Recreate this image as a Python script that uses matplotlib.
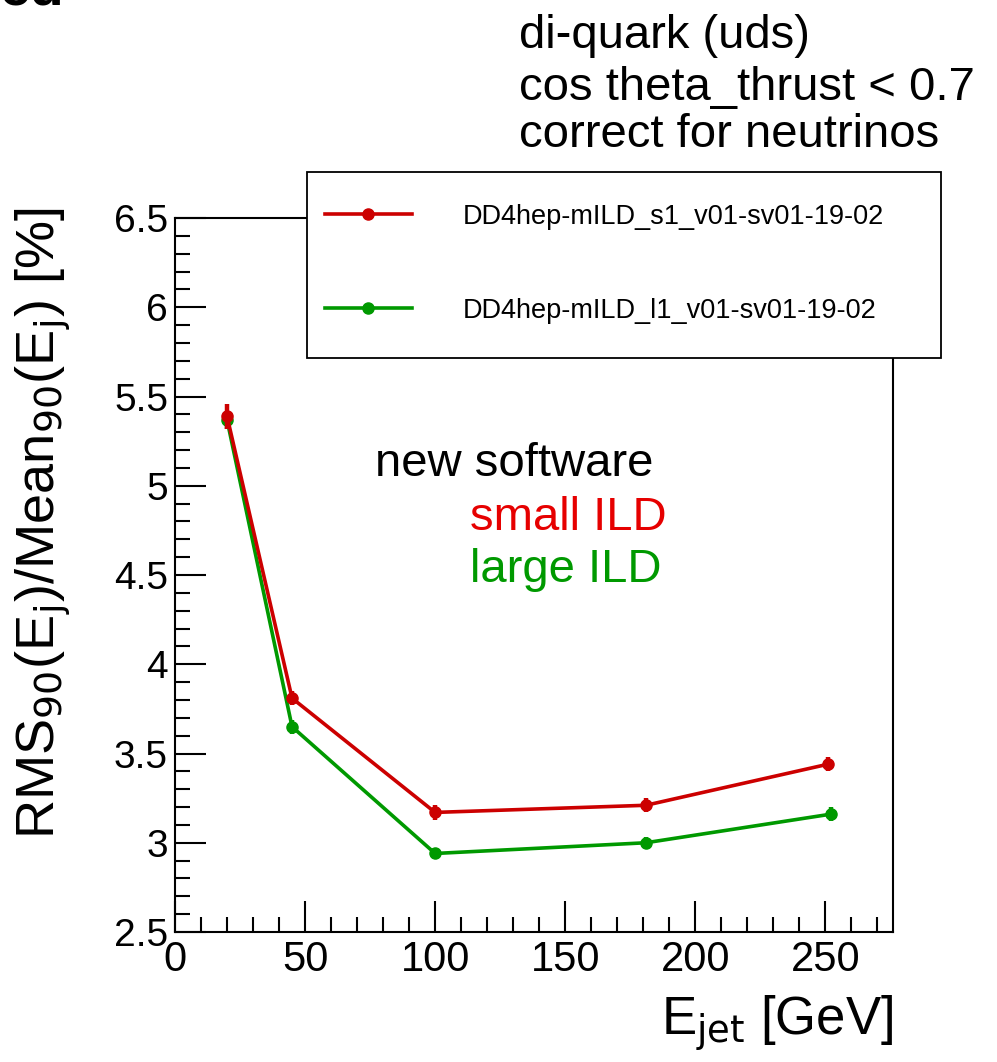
import numpy as np
import matplotlib.pyplot as plt
from matplotlib.patches import Rectangle
from matplotlib.ticker import MultipleLocator

plt.rcParams['font.family'] = ['Liberation Sans', 'DejaVu Sans']

# Data
e_small = np.array([20, 45, 100, 181, 251])
rms_small = np.array([5.39, 3.81, 3.17, 3.21, 3.44])
err_small = np.array([0.07, 0.04, 0.04, 0.04, 0.04])

e_large = np.array([20, 45, 100, 181, 252])
rms_large = np.array([5.37, 3.65, 2.94, 3.00, 3.16])
err_large = np.array([0.05, 0.04, 0.03, 0.03, 0.04])

label_small = 'DD4hep-mILD_s1_v01-sv01-19-02'
label_large = 'DD4hep-mILD_l1_v01-sv01-19-02'

red = '#cc0000'
green = '#009900'

fig = plt.figure(figsize=(9.97, 10.62), dpi=100)
ax = fig.add_axes([0.1755, 0.1224, 0.7202, 0.6723])

# green first, red on top
ax.errorbar(e_large, rms_large, yerr=err_large, fmt='none', ecolor=green, elinewidth=3.2, capsize=0)
ax.plot(e_large, rms_large, color=green, lw=2.6, marker='o', ms=8, label=label_large)
ax.errorbar(e_small, rms_small, yerr=err_small, fmt='none', ecolor=red, elinewidth=3.2, capsize=0)
ax.plot(e_small, rms_small, color=red, lw=2.6, marker='o', ms=8, label=label_small)

ax.set_xlim(0, 276)
ax.set_ylim(2.5, 6.5)
ax.xaxis.set_major_locator(MultipleLocator(50))
ax.xaxis.set_minor_locator(MultipleLocator(10))
ax.yaxis.set_minor_locator(MultipleLocator(0.1))
ax.set_yticks(np.arange(2.5, 6.6, 0.5))
ax.set_yticklabels(['2.5', '3', '3.5', '4', '4.5', '5', '5.5', '6', '6.5'])
ax.tick_params(which='both', direction='in', width=1.5)
ax.tick_params(axis='x', labelsize=30, pad=6)
ax.tick_params(axis='y', labelsize=28, pad=5)
ax.tick_params(which='major', length=22)
ax.tick_params(which='minor', length=11)
for s in ax.spines.values():
    s.set_linewidth(1.5)

ax.set_ylabel(r'RMS$_{90}$(E$_{\rm j}$)/Mean$_{90}$(E$_{\rm j}$) [%]', fontsize=39)
ax.yaxis.label.set_va('center')
ax.yaxis.set_label_coords(-0.183, 0.572)
ax.set_xlabel(r'E$_{\rm jet}$ [GeV]', fontsize=38, ha='right', x=1.0, labelpad=10)

# legend box + entries
fig.patches.append(Rectangle((0.308, 0.663), 0.636, 0.175, transform=fig.transFigure,
                             facecolor='white', edgecolor='black', lw=1.3, zorder=3))
handles, labels = ax.get_legend_handles_labels()
leg = fig.legend(handles[::-1], labels[::-1], loc='upper left',
                 bbox_to_anchor=(0.326, 0.808), fontsize=19.5, frameon=False,
                 handlelength=3.2, handletextpad=1.9, labelspacing=2.5,
                 borderpad=0, borderaxespad=0)
leg.set_zorder(4)

# annotations
fig.text(0.521, 0.9548, 'di-quark (uds)', fontsize=34, va='baseline')
fig.text(0.521, 0.9058, 'cos theta_thrust < 0.7', fontsize=34, va='baseline')
fig.text(0.521, 0.8616, 'correct for neutrinos', fontsize=34, va='baseline')
fig.text(0.376, 0.5518, 'new software', fontsize=34, va='baseline')
fig.text(0.471, 0.501, 'small ILD', fontsize=34, va='baseline', color='#e60000')
fig.text(0.471, 0.452, 'large ILD', fontsize=34, va='baseline', color=green)
fig.text(0.0, 0.996, 'ed', fontsize=40, va='baseline', fontweight='bold')

fig.savefig('out.png', dpi=100)
